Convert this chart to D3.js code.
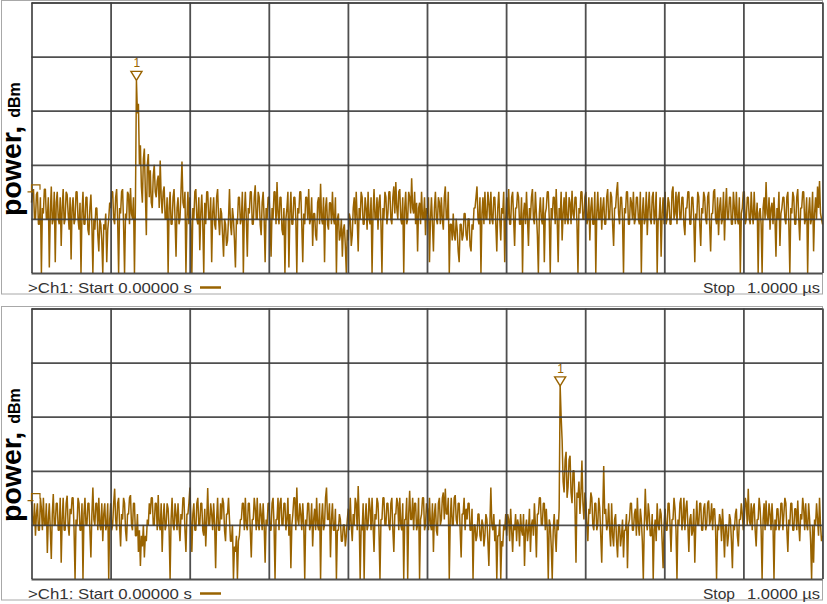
<!DOCTYPE html>
<html><head><meta charset="utf-8">
<script src="https://cdn.jsdelivr.net/npm/d3@7"></script>
<style>html,body{margin:0;padding:0;background:#fff;} svg{display:block;}</style>
</head><body>
<svg id="chart" width="827" height="604"></svg>
<script>
// ---------- data ----------
const yLabelMain = "power,";
const yLabelUnit = "dBm";
const startLabel = ">Ch1: Start 0.00000 s";
const stopWord = "Stop";
const stopValue = "1.0000 µs";
const markerLabel = "1";
const xDomainNs = [0, 1000];
const xGridNs = [0, 100, 200, 300, 400, 500, 600, 700, 800, 900, 1000];
const yDomainDbm = [-100, -50];
const yGridDbm = [-100, -90, -80, -70, -60, -50];
const refLevels = [-85, -85.5];
const peakIndices = [106, 534];

// power (dBm), 800 sweep points over 0..1 µs
const traceTop = [
 -87,-85,-84.5,-90,-90,-85.5,-85,-91,-91,-86,-100,-88,-89,-84.5,-84.5,-90,-90,-86,-99,-89,-84,-91,-90,-85,-98,-87,-85,-90,-91,-86,-95,-88,-84.5,-91,-90,-85,-85.5,-89,-92,-86,
 -97.5,-88,-86,-91,-90,-85,-85,-90,-92,-87,-100,-89,-85,-91,-91,-86,-86,-92,-93,-88,-85.5,-91,-100,-90,-92,-88,-88,-93,-96,-90,-91,-94,-100,-91,-92,-89,-98,-92,-90,-87,
 -88,-85,-85,-90,-91,-86,-84.5,-90,-100,-88,-89,-85,-84.5,-91,-100,-89,-90,-85,-85.5,-91,-84.3,-89,-90,-86,-100,-87,-64.4,-70.5,-68.7,-80,-76.4,-84,-87,-79,-77,-85,-93,-80,-78,-86,
 -81,-87,-88,-82,-80,-85,-86,-83,-82,-88,-79.2,-86,-89,-85,-84,-90,-90,-86,-100,-88,-85,-91,-91,-86,-84.5,-90,-97,-88,-86,-91,-90,-85,-79.4,-87,-88,-85,-100,-90,-85,-91,
 -86,-91,-100,-88,-90,-85,-84.5,-90,-91,-86,-95.8,-89,-85.5,-91,-100,-87,-91,-85,-85,-90,-90,-86,-98,-89,-86,-91,-92,-86,-84.5,-90,-93,-88,-89,-93,-97,-90,-91,-95,-94,-90,
 -84.5,-91,-93,-88,-90,-94,-99,-90,-91,-86,-86,-91,-90,-85,-100,-89,-85,-90,-97,-88,-89,-85,-85,-91,-91,-86,-83.8,-90,-90,-85,-86,-91,-93,-87,-85,-90,-98,-88,-90,-86,
 -86,-90,-97,-88,-90,-85,-85,-91,-83.2,-89,-91,-86,-86,-92,-93,-88,-100,-90,-88,-85,-99,-89,-85,-91,-91,-86,-86,-90,-100,-88,-89,-85,-85,-91,-98,-89,-91,-86,-86,-90,
 -84.5,-91,-90,-86,-95,-89,-89,-93,-94,-87,-86,-91,-83.5,-90,-91,-86,-98,-88,-86,-91,-92,-87,-87,-91,-85,-90,-91,-86,-100,-90,-89,-94,-93,-90,-97,-92,-91,-95,-100,-92,
 -94,-89,-90,-95,-93,-88,-86,-91,-85,-90,-96,-88,-90,-85,-86,-91,-91,-86,-88,-92,-85,-90,-91,-86,-100,-89,-84.5,-90,-90,-86,-92,-87,-85.5,-91,-100,-88,-90,-85,-86,-91,
 -89,-85,-85,-90,-91,-86,-84,-89,-83.2,-88,-90,-85,-84.5,-90,-91,-86,-100,-88,-85,-91,-90,-85,-86,-89,-82.5,-88,-89,-85,-91,-87,-96,-88,-87,-91,-85,-90,-90,-86,-93,-88,
 -89,-86,-98,-90,-86,-91,-96,-88,-85,-90,-91,-86,-87,-91,-86,-90,-92,-86,-84,-90,-90,-85,-100,-91,-91,-94,-89,-93,-94,-90,-92,-96,-98,-91,-91,-94,-93,-89,-89,-93,
 -94,-90,-90,-95,-96,-91,-92,-88,-88,-86,-84,-90,-91,-86,-100,-89,-86,-91,-85,-90,-90,-85,-87,-91,-85,-90,-91,-86,-86,-91,-96,-88,-85,-90,-94,-88,-89,-85,-98,-90,
 -86,-90,-84.5,-91,-91,-86,-85,-90,-95,-88,-88,-85,-86,-91,-91,-86,-100,-89,-87,-91,-85,-90,-95,-88,-90,-86,-84.5,-90,-91,-85,-89,-93,-100,-89,-86,-90,-91,-86,-98,-89,
 -88,-85,-85,-90,-100,-88,-90,-86,-86,-91,-84.5,-90,-98,-88,-90,-85,-94,-89,-86,-91,-85,-90,-91,-86,-87,-91,-84.8,-89,-90,-86,-86,-91,-100,-88,-89,-85,-85,-90,-90,-86,
 -85,-91,-90,-86,-94,-88,-86,-91,-91,-85,-100,-89,-85,-90,-90,-86,-92,-88,-86,-91,-91,-86,-84.5,-90,-90,-85,-86,-91,-95,-88,-88,-85,-83.2,-89,-91,-86,-86,-90,-100,-88,
 -89,-85,-85,-91,-91,-86,-87,-90,-85,-91,-90,-86,-86,-90,-91,-85,-100,-89,-86,-91,-90,-85,-93,-88,-85,-90,-91,-86,-85,-91,-89,-85,-100,-90,-90,-86,-97,-89,-86,-91,
 -85,-91,-90,-86,-87,-91,-91,-85,-84,-90,-89,-85,-91,-86,-85,-90,-90,-86,-86,-91,-93,-88,-88,-85,-85,-91,-91,-86,-86,-90,-98,-89,-90,-85,-86,-91,-95,-88,-89,-85,
 -86,-90,-91,-86,-85,-91,-96,-89,-89,-85,-84.5,-90,-91,-86,-93,-88,-86,-91,-90,-85,-94,-88,-84.3,-90,-90,-86,-86,-91,-91,-85,-88,-91,-85,-90,-91,-86,-100,-89,-88,-85,
 -85,-91,-90,-86,-86,-90,-91,-85,-89,-91,-85,-90,-90,-87,-100,-89,-88,-91,-100,-88,-86,-90,-83.2,-89,-90,-86,-92,-88,-87,-91,-86,-90,-97,-88,-90,-85,-95,-89,-88,-86,
 -86,-90,-91,-86,-85,-91,-100,-88,-89,-85,-86,-91,-91,-86,-84.5,-90,-94,-88,-88,-85,-85,-91,-90,-86,-100,-89,-86,-91,-90,-85,-96,-89,-86,-90,-84,-88,-83,-89,-90,-91
];

// power (dBm), 800 sweep points over 0..1 µs
const traceBottom = [
 -85.6,-89,-90,-86,-92,-88,-86,-91,-91,-85,-87,-91,-85,-90,-90,-86,-95.2,-89,-86,-91,-96.3,-88,-84.3,-90,-90,-86,-86,-91,-91,-85,-97,-89,-85,-91,-91,-86,-84.6,-90,-92,-87,
 -88,-85,-85,-91,-100,-89,-90,-85,-86,-91,-91,-86,-100,-88,-85,-90,-90,-86,-86,-91,-96,-88,-83.1,-89,-90,-86,-86,-91,-85,-90,-91,-86,-93,-88,-86,-91,-90,-86,-100,-89,
 -86,-91,-90,-86,-83.3,-89,-91,-86,-85,-90,-94,-88,-89,-85,-86,-91,-93,-88,-88,-85,-84.5,-90,-91,-86,-86,-92,-92,-88,-95,-91,-97.6,-92,-94,-90,-96,-92,-93,-89,-90,-86,
 -88,-85,-85,-90,-90,-86,-86,-91,-84.5,-90,-91,-86,-95,-89,-86,-91,-90,-86,-87,-91,-100,-89,-85,-90,-91,-86,-88,-91,-86,-90,-93,-88,-89,-85,-85,-91,-95,-88,-88,-86,
 -83.1,-89,-95,-88,-86,-91,-91,-86,-85,-90,-90,-86,-86,-91,-92,-87,-94,-89,-83.2,-90,-90,-86,-88,-91,-86,-90,-98,-89,-85,-91,-91,-86,-89,-85,-86,-91,-93,-88,-88,-85,
 -89,-93,-93,-90,-100,-94,-95,-92,-100,-93,-92,-89,-89,-86,-86,-91,-85,-90,-91,-86,-86,-91,-96,-89,-89,-85,-87,-91,-85,-90,-91,-86,-88,-91,-86,-90,-97,-89,-90,-86,
 -86,-91,-91,-86,-85,-90,-100,-89,-89,-85,-91,-86,-85,-90,-90,-86,-86,-91,-89,-85,-92,-88,-98,-90,-88,-85,-85,-91,-83.1,-89,-90,-86,-88,-91,-86,-90,-100,-89,-90,-86,
 -86,-91,-90,-86,-94,-89,-87,-91,-85,-90,-91,-86,-100,-89,-86,-91,-90,-85,-83.1,-89,-89,-86,-96,-89,-86,-91,-91,-87,-100,-91,-91,-88,-89,-93,-93,-90,-90,-94,-92,-89,
 -87,-91,-85,-90,-93,-88,-90,-85,-86,-91,-82.8,-89,-100,-90,-91,-86,-100,-89,-86,-91,-90,-85,-87,-91,-85,-90,-95,-88,-89,-85,-86,-91,-100,-89,-89,-85,-85,-90,-90,-86,
 -86,-90,-91,-86,-85,-91,-95,-88,-88,-85,-86,-91,-85,-90,-91,-86,-100,-89,-89,-85,-100,-88,-83.7,-89,-89,-85,-91,-86,-86,-91,-90,-85,-100,-89,-88,-85,-85,-91,-90,-86,
 -87,-91,-85,-90,-91,-86,-95,-88,-86,-91,-92,-86,-85,-90,-89,-85,-84,-89,-83.3,-88,-88,-85,-100,-89,-85,-90,-90,-85,-84.5,-89,-90,-86,-86,-91,-96,-88,-88,-85,-91,-87,
 -89,-86,-86,-91,-91,-87,-100,-90,-90,-93,-92,-88,-88,-92,-93,-89,-90,-94,-92,-88,-89,-93,-97.6,-90,-83.1,-90,-91,-88,-93,-90,-100,-92,-92,-89,-100,-93,-94,-90,-91,-88,
 -92,-88,-89,-93,-87,-91,-95,-90,-91,-88,-93,-89,-90,-94,-88,-91,-92,-88,-97.6,-91,-89,-93,-91,-87,-95,-90,-89,-92,-86,-90,-96,-88,-88,-85,-85,-90,-90,-86,-86,-91,
 -87,-91,-100,-89,-90,-94,-100,-91,-88,-92,-95,-89,-91,-87,-64.3,-70,-74.4,-82,-84,-78,-76.5,-85,-83,-78,-77.2,-84,-86,-80,-80,-87,-97,-84,-85,-82,-88,-84,-78.1,-86,-89,-84,
 -86,-90,-93,-87,-88,-84,-85,-90,-91,-86,-86,-91,-90,-85,-87,-92,-97,-88,-79.1,-88,-87,-91,-90,-86,-91,-94,-86,-92,-94,-89,-88,-93,-96,-90,-90,-94,-92,-89,-96,-91,
 -91,-88,-98,-90,-89,-86,-86,-91,-91,-88,-87,-92,-85,-90,-92,-87,-89,-93,-100,-90,-83.3,-89,-91,-86,-88,-92,-92,-88,-100,-91,-89,-93,-86,-90,-91,-87,-88,-93,-98,-90,
 -87,-91,-91,-86,-86,-90,-95,-89,-89,-85,-87,-91,-100,-89,-90,-86,-85,-91,-89,-85,-91,-87,-85.5,-90,-95,-89,-88,-92,-91,-87,-97,-90,-85.5,-90,-90,-86,-86,-91,-91,-87,
 -86,-91,-90,-86,-85.5,-90,-89,-86,-91,-87,-87,-91,-100,-90,-91,-88,-89,-93,-87,-91,-96,-90,-90,-94,-92,-88,-89,-93,-98,-90,-91,-88,-87,-92,-94,-89,-89,-86,-88,-91,
 -89,-85,-86,-90,-83.3,-89,-90,-86,-91,-87,-86,-91,-94,-89,-89,-85,-87,-91,-100,-89,-86,-91,-85.5,-90,-90,-86,-88,-91,-86,-90,-100,-89,-91,-87,-87,-91,-90,-86,-86,-91,
 -88,-85,-86,-91,-95,-89,-90,-86,-86,-91,-91,-87,-87,-91,-85.5,-90,-93,-88,-89,-85,-87,-91,-86,-90,-91,-86,-89,-93,-100,-90,-97,-89,-90,-86,-89,-92,-85,-90,-93,-92
];

// ---------- drawing ----------
const traceColor = "#996300";
const gridColor = "#3c3c3c";
const frameColor = "#a8a8a8";
const textColor = "#333333";
const font = "Liberation Sans, Arial, sans-serif";
const svg = d3.select("#chart");

const panels = [
  {off: 0, data: traceTop, ref: refLevels[0], peak: peakIndices[0]},
  {off: 306, data: traceBottom, ref: refLevels[1], peak: peakIndices[1]}
];

const left = 31.5, right = 822.5;

panels.forEach(p => {
  const top = p.off + 2.5, bottom = p.off + 273;
  const g = svg.append("g");
  const x = d3.scaleLinear().domain(xDomainNs).range([left, right]);
  const y = d3.scaleLinear().domain(yDomainDbm).range([bottom, top]);
  const n = p.data.length;
  const tAt = i => xDomainNs[0] + i * (xDomainNs[1] - xDomainNs[0]) / (n - 1);

  // frame
  g.append("rect").attr("x", 1.5).attr("y", p.off + 0.5)
    .attr("width", right - 1.5).attr("height", 293.5)
    .attr("fill", "none").attr("stroke", frameColor).attr("stroke-width", 1);

  // trace
  const line = d3.line().x((d, i) => x(tAt(i))).y(d => y(Math.max(d, yDomainDbm[0])));
  g.append("path").datum(p.data).attr("d", line)
    .attr("fill", "none").attr("stroke", traceColor).attr("stroke-width", 1.5)
    .attr("stroke-linejoin", "bevel");

  // grid (drawn over trace as on the instrument)
  const gx = g.append("g").attr("transform", `translate(0,${bottom})`)
    .call(d3.axisBottom(x).tickValues(xGridNs).tickSize(-(bottom - top)).tickFormat(""));
  const gy = g.append("g").attr("transform", `translate(${left},0)`)
    .call(d3.axisLeft(y).tickValues(yGridDbm).tickSize(-(right - left)).tickFormat(""));
  [gx, gy].forEach(a => {
    a.select(".domain").remove();
    a.selectAll("line").attr("stroke", gridColor).attr("stroke-width", 1.8).attr("stroke-opacity", 0.9);
  });

  // reference level marker
  const ry = y(p.ref);
  g.append("path")
    .attr("d", `M${left - 4},${ry} H${left + 2} M${left},${ry} V${ry - 7} H${left + 8.5} V${ry - 2}`)
    .attr("fill", "none").attr("stroke", traceColor).attr("stroke-width", 1.2);

  // peak marker
  const px = x(tAt(p.peak)), py = y(p.data[p.peak]);
  g.append("path").attr("d", `M${px - 5.5},${py - 9} H${px + 5.5} L${px},${py} Z`)
    .attr("fill", "#fff").attr("stroke", traceColor).attr("stroke-width", 1.4);
  g.append("text").attr("x", px + 0.5).attr("y", py - 13)
    .attr("text-anchor", "middle").attr("font-family", font)
    .attr("font-size", 12).attr("fill", traceColor).text(markerLabel);

  // y label
  const lab = g.append("text")
    .attr("transform", `translate(21,${p.off + 216}) rotate(-90)`)
    .attr("font-family", font).attr("font-weight", "bold").attr("fill", "#000");
  lab.append("tspan").attr("font-size", 28.5).text(yLabelMain);
  lab.append("tspan").attr("font-size", 16).attr("dx", 8).attr("dy", -1.5).text(yLabelUnit);

  // footer
  const fy = p.off + 292.5;
  g.append("text").attr("x", 28).attr("y", fy)
    .attr("font-family", font).attr("font-size", 15)
    .attr("fill", textColor).attr("textLength", 164).attr("lengthAdjust", "spacingAndGlyphs")
    .text(startLabel);
  g.append("line").attr("x1", 200).attr("x2", 221).attr("y1", p.off + 287.5).attr("y2", p.off + 287.5)
    .attr("stroke", traceColor).attr("stroke-width", 2.5);
  g.append("text").attr("x", 703).attr("y", fy)
    .attr("font-family", font).attr("font-size", 15)
    .attr("fill", textColor).attr("textLength", 32).attr("lengthAdjust", "spacingAndGlyphs")
    .text(stopWord);
  g.append("text").attr("x", 747).attr("y", fy)
    .attr("font-family", font).attr("font-size", 15)
    .attr("fill", textColor).attr("textLength", 73).attr("lengthAdjust", "spacingAndGlyphs")
    .text(stopValue);
});
</script>
</body></html>
